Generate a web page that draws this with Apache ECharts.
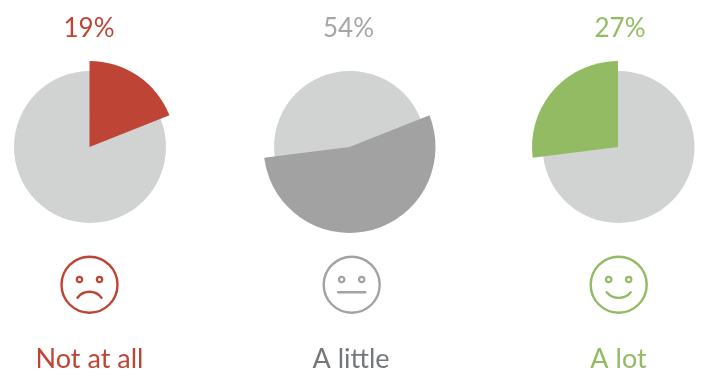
<!DOCTYPE html>
<html>
<head>
<meta charset="utf-8">
<style>html,body{margin:0;padding:0;background:#fff;overflow:hidden}#chart{width:701px;height:370px}</style>
<script src="https://cdn.jsdelivr.net/npm/echarts@6/dist/echarts.min.js"></script>
</head>
<body>
<div id="chart"></div>
<script>
// Survey answers: share of respondents per answer, in percent
const categories = ['Not at all', 'A little', 'A lot'];
const shares = [19, 54, 27];
const moods = ['sad', 'neutral', 'happy'];

const sliceColors = ['#BE4535', '#A2A2A2', '#93BB64'];
const percentColors = ['#BE4535', '#A6A6A6', '#93BB64'];
const nameColors = ['#BE4535', '#75787B', '#93BB64'];
const discColor = '#D1D3D2';

const centerX = [90, 350, 618.5];
const sliceX = [89.5, 349.5, 618];
const centerY = 147;
const faceX = [89.5, 351.7, 618.7];
const percentX = [89, 348.5, 620];
const nameX = [89.5, 351, 618.5];
const FONT = 'Lato, "Noto Sans", sans-serif';

const hidden = { color: 'none' };
const total = shares.reduce((a, b) => a + b, 0);

const series = [];
let before = 0;
shares.forEach((share, i) => {
  // Base disc
  series.push({
    type: 'pie', silent: true, animation: false, label: { show: false }, labelLine: { show: false },
    center: [centerX[i], centerY], radius: [0, 76],
    itemStyle: { color: discColor },
    data: [{ name: categories[i] + ' disc', value: total }]
  });
  // Answer's slice, offset by the shares ahead of it so the three read as one pie pulled apart
  series.push({
    type: 'pie', silent: true, animation: false, startAngle: 90, clockwise: true,
    minShowLabelAngle: 360, label: { show: false }, labelLine: { show: false }, avoidLabelOverlap: false,
    center: [sliceX[i], centerY], radius: [0, 86],
    data: [
      { name: 'before', value: before, itemStyle: hidden },
      { name: categories[i], value: share, itemStyle: { color: sliceColors[i] } },
      { name: 'after', value: total - before - share, itemStyle: hidden }
    ]
  });
  before += share;
});

// Mouth paths in face-local coordinates
function mouth(mood, stroke) {
  const style = { stroke: stroke, lineWidth: 2.4, fill: 'none', lineCap: 'round' };
  if (mood === 'neutral') {
    return { type: 'line', shape: { x1: -13.5, y1: 7.6, x2: 13.5, y2: 7.6 }, style: style };
  }
  if (mood === 'sad') {
    return { type: 'bezierCurve', shape: { x1: -12, y1: 13, cpx1: -6, cpy1: 5, cpx2: 6, cpy2: 5, x2: 12, y2: 13 }, style: style };
  }
  return { type: 'bezierCurve', shape: { x1: -12, y1: 7.5, cpx1: -6, cpy1: 15, cpx2: 6, cpy2: 15, x2: 12, y2: 7.5 }, style: style };
}

function face(i) {
  const stroke = sliceColors[i];
  const ring = { stroke: stroke, lineWidth: 2.4, fill: 'none' };
  const eye = { stroke: stroke, lineWidth: 2.2, fill: 'none' };
  return {
    type: 'group', x: faceX[i], y: 284.7,
    children: [
      { type: 'circle', shape: { cx: 0, cy: 0, r: 28 }, style: ring },
      { type: 'circle', shape: { cx: -10, cy: -5.2, r: 2.7 }, style: eye },
      { type: 'circle', shape: { cx: 10, cy: -5.2, r: 2.7 }, style: eye },
      mouth(moods[i], stroke)
    ]
  };
}

function text(str, x, y, color, size) {
  return {
    type: 'text', x: x, y: y,
    style: { text: str, fill: color, font: size + 'px ' + FONT, align: 'center', verticalAlign: 'middle' }
  };
}

const graphic = [];
shares.forEach((share, i) => {
  graphic.push(text(share + '%', percentX[i], 29, percentColors[i], 26));
  graphic.push(face(i));
  graphic.push(text(categories[i], nameX[i], 359, nameColors[i], 27));
});

const chart = echarts.init(document.getElementById('chart'), null, { renderer: 'canvas' });
chart.setOption({ animation: false, backgroundColor: '#fff', series: series, graphic: graphic });
</script>
</body>
</html>
